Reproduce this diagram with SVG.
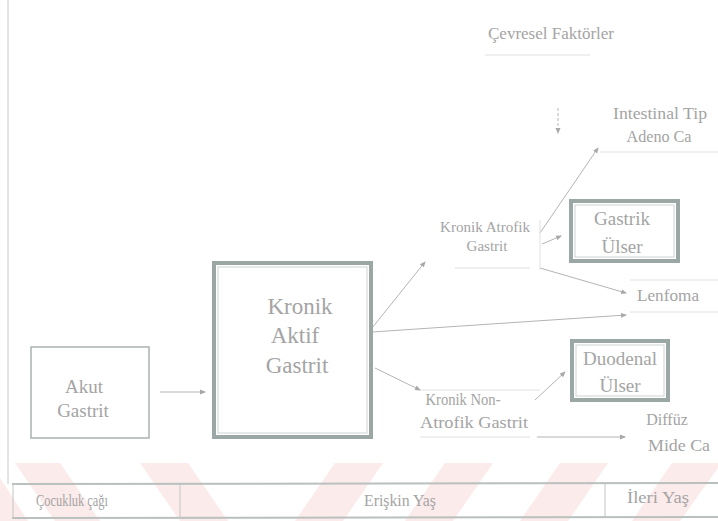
<svg xmlns="http://www.w3.org/2000/svg" width="718" height="521" viewBox="0 0 718 521" font-family="Liberation Serif, DejaVu Serif, serif">
<defs>
<style>
text{font-family:'Liberation Serif','DejaVu Serif',serif;fill:#a4a4a4;text-anchor:middle}
.s{font-size:15px}
.m{font-size:16px}
.l{font-size:19px}
.xl{font-size:23px}
.ln{stroke:#b4b4b4;stroke-width:1;fill:none}
.faint{stroke:#e0e0e0;stroke-width:1;fill:none}
.box{fill:#fff;stroke:#aab2b0;stroke-width:1.5}
.dbl{fill:#fff;stroke:#9aa7a4;stroke-width:4}
.dblin{fill:none;stroke:#ccd3d1;stroke-width:1}
</style>
<marker id="ah" markerWidth="6" markerHeight="6" refX="5" refY="3" orient="auto" markerUnits="userSpaceOnUse">
<path d="M0,0.5 L6,3 L0,5.5 z" fill="#a8a8a8"/>
</marker>
</defs>
<rect width="718" height="521" fill="#fff"/>
<g id="watermark" fill="#fcebeb">
<polygon points="0,478 0,521 28,521"/>
<polygon points="15,463 60,463 100,521 55,521"/>
<polygon points="140,463 188,463 228,521 180,521"/>
<polygon points="335,463 383,463 343,521 295,521"/>
<polygon points="445,463 493,463 453,521 405,521"/>
<polygon points="560,463 608,463 568,521 520,521"/>
<polygon points="672,463 718,463 718,468 680,521 632,521"/>
</g>
<line x1="8" y1="0" x2="8" y2="484" stroke="#cacaca"/>
<g id="connectors">
<line class="ln" x1="160" y1="392" x2="205" y2="392" marker-end="url(#ah)"/>
<line class="ln" x1="558" y1="108" x2="558" y2="133" stroke-dasharray="3,2" marker-end="url(#ah)"/>
<line class="ln" x1="540" y1="233" x2="598" y2="148" marker-end="url(#ah)"/>
<line class="ln" x1="542" y1="244" x2="561" y2="236" marker-end="url(#ah)"/>
<line class="ln" x1="540" y1="268" x2="626" y2="293" marker-end="url(#ah)"/>
<line class="ln" x1="372" y1="328" x2="425" y2="262" marker-end="url(#ah)"/>
<line class="ln" x1="372" y1="332" x2="626" y2="315" marker-end="url(#ah)"/>
<line class="ln" x1="375" y1="368" x2="420" y2="390" marker-end="url(#ah)"/>
<line class="faint" x1="420" y1="390" x2="540" y2="390"/>
<line class="ln" x1="535" y1="400" x2="565" y2="372" marker-end="url(#ah)"/>
<line class="faint" x1="420" y1="437" x2="530" y2="437"/>
<line class="ln" x1="537" y1="437" x2="625" y2="437" marker-end="url(#ah)"/>
<line class="faint" x1="485" y1="55" x2="590" y2="55"/>
<line class="faint" x1="455" y1="268" x2="530" y2="268"/>
<line class="faint" x1="540" y1="220" x2="540" y2="270"/>
<line class="faint" x1="630" y1="280" x2="718" y2="280"/>
<line class="faint" x1="630" y1="312" x2="718" y2="312"/>
<line class="faint" x1="600" y1="152" x2="718" y2="152"/>
</g>
<g id="cevresel"><text class="m" x="551" y="39" textLength="126" lengthAdjust="spacingAndGlyphs">Çevresel Faktörler</text></g>
<g id="intestinal"><text class="m" x="660" y="119" textLength="94" lengthAdjust="spacingAndGlyphs">Intestinal Tip</text><text class="m" x="659" y="142" textLength="65" lengthAdjust="spacingAndGlyphs">Adeno Ca</text></g>
<g id="akut">
<rect class="box" x="31" y="347" width="118" height="91"/>
<text class="l" x="84" y="393">Akut</text>
<text class="l" x="83" y="417">Gastrit</text>
</g>
<g id="kronik-aktif">
<rect class="dbl" x="214" y="263" width="157" height="174"/>
<rect class="dblin" x="218" y="267" width="149" height="166"/>
<text class="xl" x="300" y="314">Kronik</text>
<text class="xl" x="295" y="343">Aktif</text>
<text class="xl" x="297" y="373">Gastrit</text>
</g>
<g id="kronik-atrofik"><text class="s" x="485" y="232" textLength="90" lengthAdjust="spacingAndGlyphs">Kronik Atrofik</text><text class="s" x="487" y="251">Gastrit</text></g>
<g id="gastrik-ulser">
<rect class="dbl" x="571" y="201" width="107" height="60"/>
<rect class="dblin" x="575" y="205" width="99" height="52"/>
<text class="l" x="622" y="225">Gastrik</text>
<text class="l" x="622" y="253">Ülser</text>
</g>
<g id="lenfoma"><text class="m" x="668" y="301" textLength="62" lengthAdjust="spacingAndGlyphs">Lenfoma</text></g>
<g id="duodenal-ulser">
<rect class="dbl" x="572" y="341" width="96" height="59"/>
<rect class="dblin" x="576" y="345" width="88" height="51"/>
<text class="l" x="620" y="365">Duodenal</text>
<text class="l" x="620" y="392">Ülser</text>
</g>
<g id="kronik-non-atrofik"><text class="m" x="463" y="405" textLength="75" lengthAdjust="spacingAndGlyphs">Kronik Non-</text><text class="m" x="474" y="428" textLength="108" lengthAdjust="spacingAndGlyphs">Atrofik Gastrit</text></g>
<g id="diffuz"><text class="m" x="667" y="425">Diffüz</text><text class="m" x="679" y="451" textLength="62" lengthAdjust="spacingAndGlyphs">Mide Ca</text></g>
<g id="timeline">
<line x1="12" y1="484" x2="718" y2="483" stroke="#b9c0be" stroke-width="2"/>
<line x1="12" y1="518" x2="718" y2="517" stroke="#b9c0be" stroke-width="2"/>
<line x1="13" y1="484" x2="13" y2="518" stroke="#c4c4c4"/>
<line x1="180" y1="484" x2="180" y2="518" stroke="#c4c4c4"/>
<line x1="605" y1="483" x2="605" y2="517" stroke="#c4c4c4"/>
<text class="m" x="72" y="506" textLength="72" lengthAdjust="spacingAndGlyphs">Çocukluk çağı</text>
<text class="m" x="400" y="506" textLength="72" lengthAdjust="spacingAndGlyphs">Erişkin Yaş</text>
<text class="m" x="658" y="503" textLength="62" lengthAdjust="spacingAndGlyphs">İleri Yaş</text>
</g>
</svg>
